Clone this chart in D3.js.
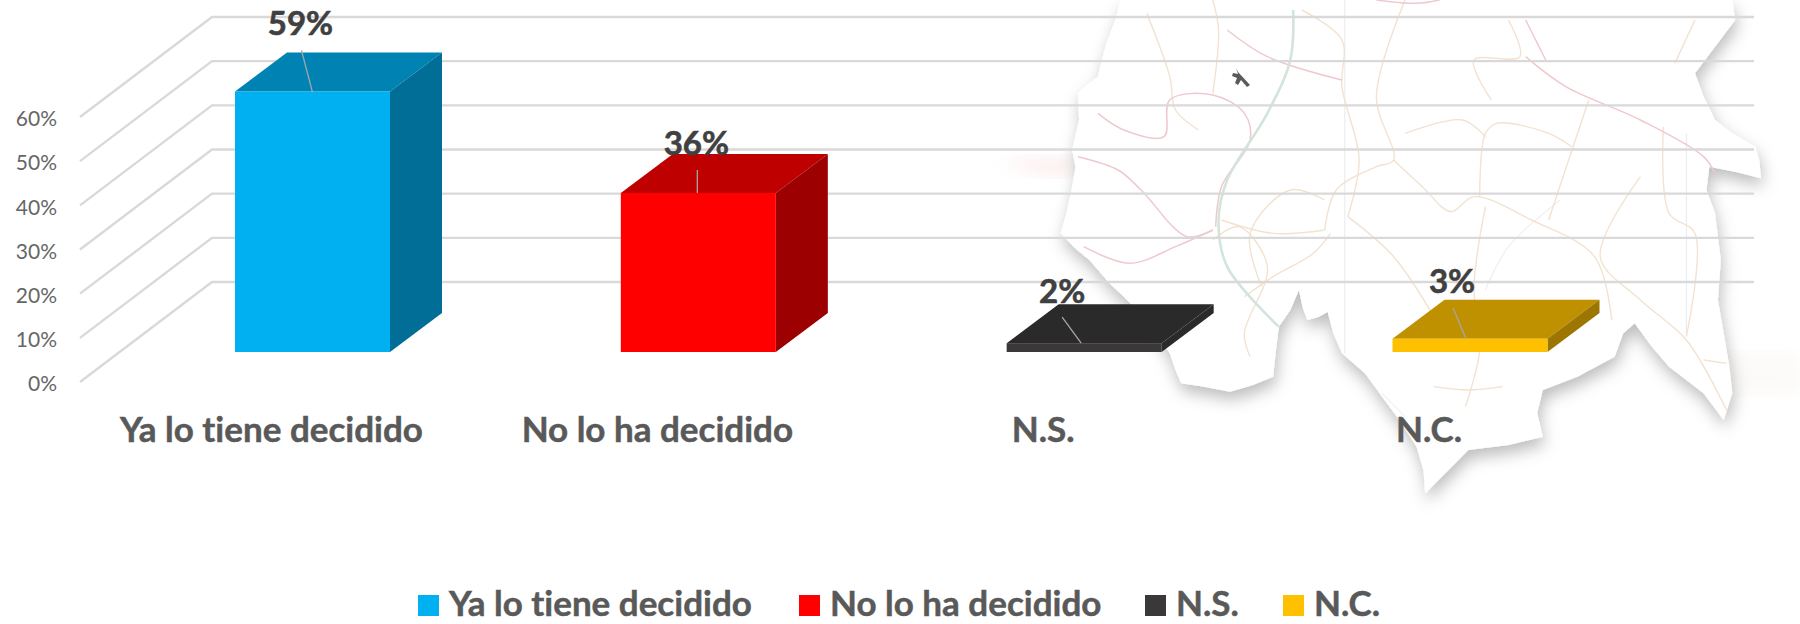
<!DOCTYPE html>
<html><head><meta charset="utf-8">
<script src="https://cdn.jsdelivr.net/npm/d3@7/dist/d3.min.js"></script>
<style>html,body{margin:0;padding:0;background:#fff}svg{display:block}text{font-family:Lato,"Open Sans",sans-serif;font-variant-ligatures:none}</style>
</head><body><svg id="c" width="1800" height="624"></svg>
<script>
const categories = ["Ya lo tiene decidido","No lo ha decidido","N.S.","N.C."];
const values = [59,36,2,3];
const valueLabels = ["59%","36%","2%","3%"];
const yTicks = [0,10,20,30,40,50,60];
const frontColors = ["#00B0F0","#FF0000","#3A3838","#FFC000"];
const topColors = ["#0083B3","#BF0000","#2B2A2A","#BF9000"];
const sideColors = ["#006E96","#9C0000","#2B2A2A","#9C7600"];

// Decorative background map, in a 1.742 x 3 stretched local space
const mapOutline = [[385,0],[375,60],[360,130],[350,190],[345,230],[320,262],[310,280],[312,360],[300,450],[306,500],[300,560],[290,640],[280,700],[305,745],[330,780],[365,850],[390,890],[430,960],[470,1060],[480,1110],[490,1150],[530,1160],[575,1175],[615,1155],[650,1130],[655,1050],[660,980],[680,930],[695,870],[702,925],[710,960],[730,950],[745,935],[755,1000],[770,1060],[810,1120],[840,1190],[870,1260],[900,1340],[912,1410],[915,1480],[950,1420],[990,1350],[1060,1335],[1120,1310],[1110,1240],[1120,1170],[1180,1130],[1245,1070],[1260,1000],[1280,970],[1310,1040],[1340,1100],[1400,1180],[1435,1260],[1450,1180],[1445,1100],[1425,900],[1430,780],[1420,640],[1405,570],[1410,500],[1455,515],[1500,535],[1497,480],[1490,440],[1450,400],[1420,360],[1400,290],[1385,220],[1420,140],[1455,60],[1450,0]];
const roadsPink = [
 [[310,470],[380,510],[420,570],[500,710],[545,690]],
 [[320,740],[400,790],[480,740],[545,690]],
 [[345,340],[390,390],[460,410],[470,300],[545,285],[600,340],[610,420],[560,560],[550,680]],
 [[570,90],[640,170],[770,240]],
 [[1090,170],[1160,260],[1290,360],[1400,470],[1420,520]],
 [[830,0],[900,10],[940,0]],
 [[1090,60],[1125,180]]
];
const roadsTan = [
 [[430,40],[470,230],[480,330],[520,390]],
 [[880,0],[830,290],[860,480],[830,500],[760,570],[740,690]],
 [[860,480],[910,560],[960,635],[1000,590],[1100,660],[1210,770],[1240,960]],
 [[1010,590],[1020,400],[1040,370],[1130,400],[1170,440]],
 [[1020,620],[1000,860],[1010,1050],[985,1220]],
 [[1200,300],[1130,660]],
 [[1290,530],[1220,770],[1290,900],[1370,1020],[1440,1230]],
 [[1330,380],[1340,640],[1385,700],[1370,1010]],
 [[740,690],[650,700],[560,660]],
 [[780,650],[860,770],[930,950]],
 [[740,600],[680,570],[610,700],[630,860]],
 [[700,30],[770,120],[770,260],[800,480],[780,650]],
 [[880,400],[980,360],[1020,410]],
 [[545,0],[555,90],[545,280]],
 [[545,720],[590,680],[640,800],[600,1000],[610,1070]],
 [[750,700],[720,760],[650,830],[600,890]],
 [[1030,300],[1000,180],[1080,170],[1060,60]],
 [[1350,190],[1385,60]],
 [[930,1160],[990,1170],[1050,1160]],
 [[1400,1080],[1440,1090]]
];
const roadsFaint = [
 [[775,0],[775,1060]],
 [[1370,400],[1370,1000]],
 [[1150,600],[1060,740],[1020,870]],
 [[840,1180],[880,1250]]
];
const roadGreen = [[685,30],[680,180],[640,340],[570,540],[555,660],[570,800],[660,980]];

const svg = d3.select("#c");
const defs = svg.append("defs");
const f = defs.append("filter").attr("id","sh").attr("x","-10%").attr("y","-10%").attr("width","120%").attr("height","120%");
f.append("feDropShadow").attr("dx",2).attr("dy",8).attr("stdDeviation",8).attr("flood-color","#000").attr("flood-opacity",0.26);
defs.append("filter").attr("id","bl").append("feGaussianBlur").attr("stdDeviation",8);

// Map
const toMapX = d3.scaleLinear().domain([0,1568]).range([900,1800]);
const toMapY = d3.scaleLinear().domain([0,1560]).range([0,520]);
const mapLine = d3.line().x(d=>toMapX(d[0])).y(d=>toMapY(d[1]));
const mapG = svg.append("g");
mapG.append("path").attr("d",mapLine([[170,480],[300,470],[300,530],[240,520]])+"Z").attr("fill","#f9c9c9").attr("opacity",0.3).attr("filter","url(#bl)");
mapG.append("path").attr("d",mapLine([[1420,1060],[1568,1060],[1568,1180],[1420,1180]])+"Z").attr("fill","#f6f3ee").attr("opacity",0.4).attr("filter","url(#bl)");
mapG.append("path").attr("d",mapLine(mapOutline)).attr("fill","#fff").attr("filter","url(#sh)");
const curved = d3.line().x(d=>toMapX(d[0])).y(d=>toMapY(d[1])).curve(d3.curveCatmullRom);
mapG.selectAll("path.f").data(roadsFaint).join("path").attr("class","f").attr("d",curved).attr("fill","none").attr("stroke","#e6e9ee").attr("stroke-width",1);
mapG.selectAll("path.t").data(roadsTan).join("path").attr("class","t").attr("d",curved).attr("fill","none").attr("stroke","#f3e2d0").attr("stroke-width",1.4);
mapG.selectAll("path.p").data(roadsPink).join("path").attr("class","p").attr("d",curved).attr("fill","none").attr("stroke","#efc9cd").attr("stroke-width",1.5);
mapG.append("path").attr("d",curved(roadGreen)).attr("fill","none").attr("stroke","#d3e5db").attr("stroke-width",2.6);
mapG.append("path").attr("d","M1238 72 l12 13 l-3 2 l-6 -7 l-3 5 l-3 -2 l2 -5 l-5 -2 l1 -3 l5 1 l-2 -6 z").attr("fill","#5a5a5a");

// Scales
const yScale = d3.scaleLinear().domain([0,60]).range([382,117]);
const barBase = 352;                       // front baseline of bars
const heightPerUnit = 382-yScale(1);
const xCentre = d3.scalePoint().domain(categories).range([312.5,1470]);
const barW = 155, dX = 52, dY = 39, wallDX = 132, wallDY = 100, gridEnd = 1754;

// Grid
const grid = svg.append("g").attr("stroke","#d9d9d9").attr("stroke-width",2.4).attr("fill","none");
grid.selectAll("path").data(yTicks).join("path")
 .attr("d",d=>{const y=yScale(d);return `M80,${y}L${80+wallDX},${y-wallDY}L${gridEnd},${y-wallDY}`;});

// Axis labels
const yAxis = d3.axisLeft(yScale).tickValues(yTicks).tickFormat(d=>d+"%").tickSize(0).tickPadding(0);
const ya = svg.append("g").attr("transform","translate(57,2)").call(yAxis);
ya.select(".domain").remove();
ya.selectAll("text").attr("font-size",21).attr("fill","#666").attr("font-family","Lato");

// Bars
const bars = svg.append("g").selectAll("g").data(categories).join("g");
bars.each(function(c,i){
  const g=d3.select(this), h=values[i]*heightPerUnit, xL=xCentre(c)-barW/2, xR=xL+barW, yT=barBase-h;
  g.append("path").attr("d",`M${xL},${yT}L${xL+dX},${yT-dY}L${xR+dX},${yT-dY}L${xR},${yT}Z`).attr("fill",topColors[i]);
  g.append("path").attr("d",`M${xR},${yT}L${xR+dX},${yT-dY}L${xR+dX},${barBase-dY}L${xR},${barBase}Z`).attr("fill",sideColors[i]);
  g.append("rect").attr("x",xL).attr("y",yT).attr("width",barW).attr("height",h).attr("fill",frontColors[i]);
});

// Data labels and leader lines
const labelDX = [-12,-2,-22,-18], labelDY = [-56,-38,-40,-46];
const leadTopDX = [-11,-1,-22,-17], leadTopDY = [-41,-23,-26,-31], leadEndDX = [0,-1,-3,-4], leadEndDY = [1,0,0,0];
const leaders = svg.append("g").attr("stroke","#a6a6a6").attr("stroke-width",1.3);
categories.forEach((c,i)=>{
  const yT=barBase-values[i]*heightPerUnit, x=xCentre(c);
  leaders.append("line").attr("x1",x+leadTopDX[i]).attr("y1",yT+leadTopDY[i]).attr("x2",x+leadEndDX[i]).attr("y2",yT+leadEndDY[i]);
  svg.append("text").attr("x",x+labelDX[i]).attr("y",yT+labelDY[i]).attr("text-anchor","middle")
    .attr("font-size",33).attr("font-weight",700).attr("fill","#404040").attr("stroke","#404040").attr("stroke-width",0.6).text(valueLabels[i]);
  svg.append("text").attr("x",x-41).attr("y",442).attr("text-anchor","middle")
    .attr("font-size",35).attr("font-weight",700).attr("fill","#595959").attr("stroke","#595959").attr("stroke-width",0.5).text(c);
});

// Legend
const legendX = [418,799,1145,1283];
const lg = svg.append("g").selectAll("g").data(categories).join("g").attr("transform",(d,i)=>`translate(${legendX[i]},595)`);
lg.append("rect").attr("width",21).attr("height",21).attr("fill",(d,i)=>frontColors[i]);
lg.append("text").attr("x",31).attr("y",21).attr("font-size",35).attr("font-weight",700).attr("fill","#595959").attr("stroke","#595959").attr("stroke-width",0.5).text(d=>d);
</script></body></html>
